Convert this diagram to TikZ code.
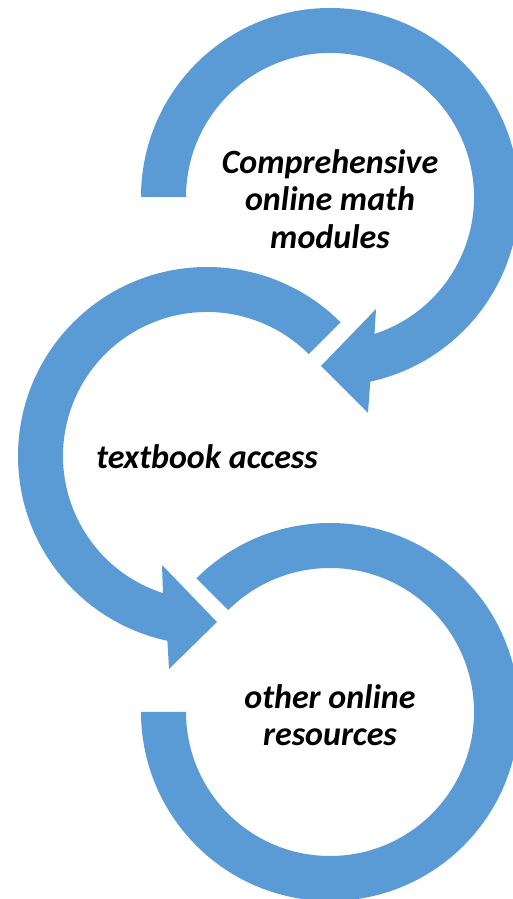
\documentclass[tikz,border=0pt]{standalone}
\usepackage{fontspec}
\setmainfont{Carlito}
\usetikzlibrary{calc}
\definecolor{arrowblue}{HTML}{5B9BD5}
\begin{document}
\begin{tikzpicture}
    [
        x=1pt, y=1pt,
        ring/.style = {fill=arrowblue},
        ringtext/.style = {font=\fontsize{34}{37.5}\selectfont\bfseries\itshape, align=center, text=black},
    ]
    \useasboundingbox (0,0) rectangle (513,899);
    \clip (0,0) rectangle (513,899);

    \coordinate (c1) at (330,702);
    \coordinate (c2) at (207,443);
    \coordinate (c3) at (330,187);

    % top arrow
    \fill[ring] ($(c1)+(180:189)$) arc[start angle=180, end angle=-77.7, radius=189]
        -- (368,486) -- (321,533) -- (376,590)
        -- ($(c1)+(-72:144)$) arc[start angle=-72, end angle=180, radius=144] -- cycle;

    % middle arrow
    \fill[ring] ($(c2)+(45:189)$) arc[start angle=45, end angle=257.9, radius=189]
        -- (169,230) -- (217,277) -- (162,334)
        -- ($(c2)+(252.2:144)$) arc[start angle=252.2, end angle=45, radius=144] -- cycle;

    % bottom ring
    \fill[ring] ($(c3)+(135:189)$) arc[start angle=135, end angle=-180, radius=189]
        -- ($(c3)+(180:144)$) arc[start angle=-180, end angle=135, radius=144] -- cycle;

    \node[ringtext] (modules) at (330,700) {Comprehensive\\online math\\modules};
    \node[ringtext] (textbook) at (207,442) {textbook access};
    \node[ringtext] (resources) at (330,184) {other online\\resources};
\end{tikzpicture}
\end{document}
